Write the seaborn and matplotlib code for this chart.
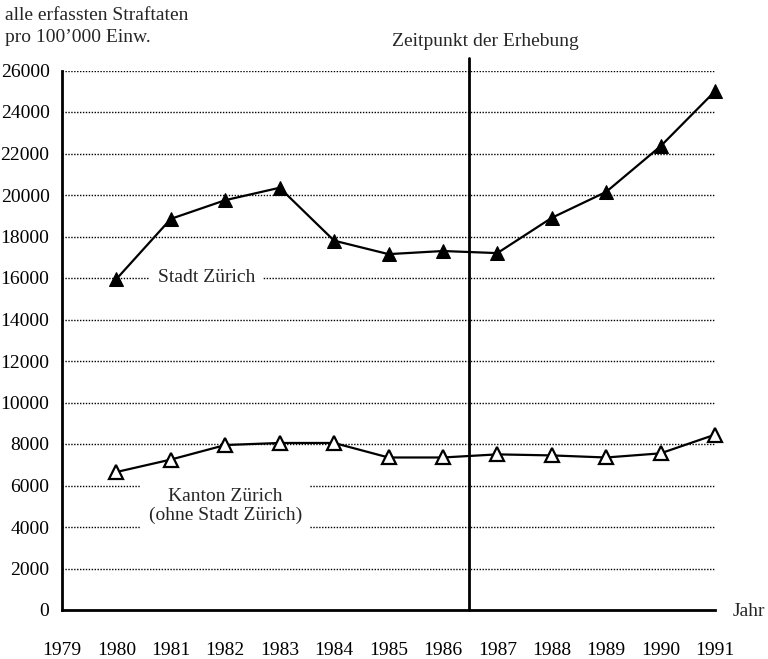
import matplotlib
matplotlib.use("Agg")
import matplotlib.pyplot as plt
import seaborn as sns
import pandas as pd

years = [1980, 1981, 1982, 1983, 1984, 1985, 1986, 1987, 1988, 1989, 1990, 1991]
stadt = [15950, 18850, 19750, 20350, 17800, 17150, 17300, 17200, 18900, 20150, 22350, 25000]
kanton = [6650, 7250, 7950, 8050, 8050, 7350, 7350, 7500, 7450, 7350, 7550, 8450]
x_ticks = list(range(1979, 1992))
y_ticks = list(range(0, 26001, 2000))
erhebung = 1986.48

sns.set_theme(style="white")
plt.rcParams['font.family'] = ['Liberation Serif', 'DejaVu Serif']

FS = 14

fig = plt.figure(figsize=(7.68, 6.59), dpi=100)
ax = fig.add_axes([62/768, 1-610/659, (715-62)/768, (610-70.5)/659])

# gridlines (dotted)
for yv in y_ticks[1:]:
    ax.axhline(yv, color='black', lw=1.0, ls=(0, (1, 1.1)), zorder=1)

df_s = pd.DataFrame({'Jahr': years, 'Wert': stadt})
df_k = pd.DataFrame({'Jahr': years, 'Wert': kanton})
sns.lineplot(data=df_s, x='Jahr', y='Wert', ax=ax, color='black', lw=1.6,
             marker='^', markersize=10, markerfacecolor='black',
             markeredgecolor='black', zorder=4, clip_on=False)
sns.lineplot(data=df_k, x='Jahr', y='Wert', ax=ax, color='black', lw=1.6,
             marker='^', markersize=10, markerfacecolor='white',
             markeredgecolor='black', markeredgewidth=1.6, zorder=4, clip_on=False)

# vertical line
ax.plot([erhebung, erhebung], [0, 26600], color='black', lw=2, clip_on=False, zorder=3)

ax.set_xlim(1979, 1991)
ax.set_ylim(0, 26000)
ax.set_xticks(x_ticks)
ax.set_xticklabels([str(v) for v in x_ticks], fontsize=FS)
ax.set_yticks(y_ticks)
ax.set_yticklabels([str(v) for v in y_ticks], fontsize=FS)
ax.tick_params(axis='x', direction='out', length=4, width=1.5, pad=19, colors='black')
ax.tick_params(axis='y', direction='out', length=5, width=1.5, pad=4, colors='black')
ax.set_xlabel('')
ax.set_ylabel('')

for s in ['top', 'right']:
    ax.spines[s].set_visible(False)
for s in ['left', 'bottom']:
    ax.spines[s].set_color('black')
    ax.spines[s].set_linewidth(2)

# labels with white box
ax.text(1981.65, 16000, 'Stadt Zürich', fontsize=FS, ha='center', va='center',
        bbox=dict(facecolor='white', edgecolor='none', pad=6), zorder=3)
ax.text(1982.0, 5000, 'Kanton Zürich\n(ohne Stadt Zürich)', fontsize=FS, ha='center',
        va='center', linespacing=1.15,
        bbox=dict(facecolor='white', edgecolor='none', pad=6), zorder=3)

fig.text(5/768, 1-15/659, 'alle erfassten Straftaten', fontsize=FS, ha='left', va='center')
fig.text(5/768, 1-38/659, 'pro 100\u2019000 Einw.', fontsize=FS, ha='left', va='center')
fig.text(485/768, 1-42/659, 'Zeitpunkt der Erhebung', fontsize=FS, ha='center', va='center')
fig.text(733/768, 1-612/659, 'Jahr', fontsize=FS, ha='left', va='center')

fig.savefig('out.png', dpi=100)
